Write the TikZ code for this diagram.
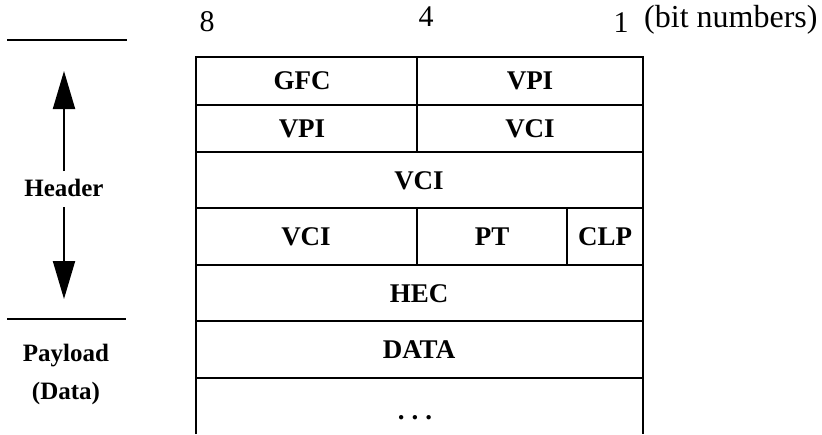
\documentclass[tikz,border=0pt]{standalone}
\usepackage{fontspec}
\setmainfont{Liberation Serif}
\usetikzlibrary{arrows.meta}
\begin{document}
\begin{tikzpicture}[x=1pt,y=-1pt,
  grid/.style={line width=2.2pt},
  lbl/.style={font=\fontsize{27}{30}\selectfont\bfseries,inner sep=0pt},
  num/.style={font=\fontsize{30}{34}\selectfont,inner sep=0pt},
  side/.style={font=\fontsize{25}{38}\selectfont\bfseries,inner sep=0pt,align=center},
  bigarrow/.style={line width=2pt,-{Triangle[width=22pt,length=38pt]}}]
\useasboundingbox (0,0) rectangle (822,434);
% table lines
\draw[grid] (196,434) -- (196,57) -- (643,57) -- (643,434);
\draw[grid] (196,105) -- (643,105);
\draw[grid] (196,152) -- (643,152);
\draw[grid] (196,208) -- (643,208);
\draw[grid] (196,265) -- (643,265);
\draw[grid] (196,321) -- (643,321);
\draw[grid] (196,378) -- (643,378);
\draw[grid] (417,57) -- (417,152);
\draw[grid] (417,208) -- (417,265);
\draw[grid] (567,208) -- (567,265);
% labels
\node[lbl] (gfc) at (302,81) {GFC};
\node[lbl] (vpi1) at (530,81) {VPI};
\node[lbl] (vpi2) at (302,129) {VPI};
\node[lbl] (vci1) at (530,129) {VCI};
\node[lbl] (vci2) at (419,181) {VCI};
\node[lbl] (vci3) at (306,237) {VCI};
\node[lbl] (pt) at (492,237) {PT};
\node[lbl] (clp) at (605,237) {CLP};
\node[lbl] (hec) at (419,294) {HEC};
\node[lbl] (data) at (419,350) {DATA};
\node[lbl,anchor=base] (dots) at (415,419) {.\hspace{7pt}.\hspace{7pt}.};
% bit numbers
\node[num] (b8) at (207,22) {8};
\node[num] (b4) at (426,17) {4};
\node[num] (b1) at (621,23) {1};
\node[num,font=\fontsize{32}{34}\selectfont,anchor=west] (bn) at (644,20) {(bit numbers)};
% side annotation
\coordinate (tl1) at (7,40); \coordinate (tr1) at (127,40);
\draw[grid] (tl1) -- (tr1);
\coordinate (bl1) at (7,319); \coordinate (br1) at (126,319);
\draw[grid] (bl1) -- (br1);
\node[side] (header) at (64,188) {Header};
\coordinate (upend) at (64,71);
\coordinate (upstart) at (64,171);
\coordinate (dnstart) at (64,207);
\coordinate (dnend) at (64,299);
\draw[bigarrow] (upstart) -- (upend);
\draw[bigarrow] (dnstart) -- (dnend);
\node[side] (payload) at (66,374) {Payload\\(Data)};
\end{tikzpicture}
\end{document}
